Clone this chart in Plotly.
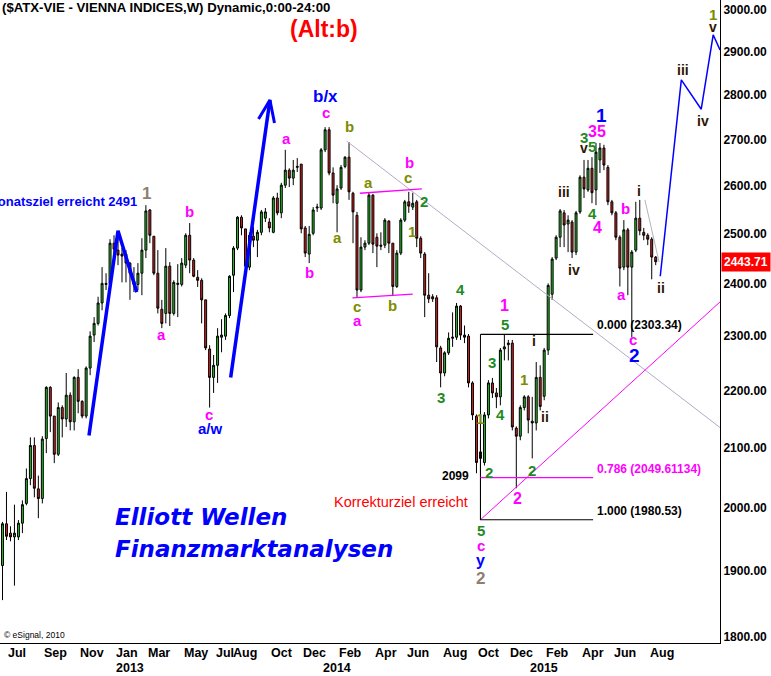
import math
import pandas as pd
import plotly.graph_objects as go

# ---------------- data (weekly ATX bars) ----------------
start_week = "2012-06-25"
opens = [1908, 1974, 1959, 1953, 1953, 1975, 2007, 2048, 2104, 2031,
         2015, 2116, 2206, 2155, 2089, 2170, 2150, 2192, 2145, 2224,
         2181, 2155, 2241, 2302, 2324, 2363, 2401, 2401, 2481, 2467,
         2459, 2459, 2441, 2405, 2399, 2421, 2467, 2549, 2495, 2421,
         2351, 2343, 2435, 2343, 2399, 2399, 2437, 2497, 2447, 2413,
         2407, 2369, 2276, 2224, 2246, 2298, 2300, 2339, 2417, 2471,
         2534, 2510, 2433, 2495, 2487, 2503, 2532, 2524, 2503, 2574,
         2543, 2601, 2633, 2616, 2639, 2646, 2512, 2459, 2501, 2553,
         2553, 2677, 2721, 2627, 2563, 2595, 2641, 2661, 2584, 2538,
         2388, 2473, 2481, 2580, 2493, 2477, 2477, 2526, 2481, 2395,
         2461, 2528, 2566, 2555, 2566, 2491, 2459, 2378, 2375, 2373,
         2278, 2232, 2269, 2296, 2298, 2357, 2302, 2300, 2214, 2155,
         2082, 2075, 2157, 2214, 2196, 2189, 2276, 2284, 2287, 2134,
         2120, 2170, 2189, 2146, 2143, 2224, 2190, 2274, 2380, 2451,
         2493, 2543, 2520, 2524, 2463, 2545, 2618, 2591, 2637, 2591,
         2655, 2681, 2639, 2566, 2543, 2493, 2433, 2508, 2433, 2467,
         2532, 2503, 2497, 2489, 2453]
highs = [1977, 2026, 1970, 2005, 1980, 2012, 2065, 2118, 2118, 2053,
         2120, 2208, 2208, 2155, 2179, 2174, 2232, 2197, 2226, 2239,
         2183, 2244, 2309, 2336, 2375, 2433, 2421, 2489, 2497, 2491,
         2471, 2467, 2443, 2433, 2441, 2491, 2559, 2551, 2495, 2467,
         2369, 2471, 2443, 2407, 2439, 2451, 2501, 2522, 2451, 2427,
         2411, 2369, 2283, 2265, 2315, 2332, 2343, 2417, 2475, 2536,
         2538, 2510, 2503, 2514, 2508, 2549, 2553, 2532, 2578, 2585,
         2606, 2677, 2637, 2655, 2659, 2646, 2516, 2516, 2555, 2562,
         2681, 2727, 2727, 2639, 2601, 2644, 2663, 2694, 2587, 2545,
         2493, 2487, 2585, 2582, 2501, 2503, 2532, 2528, 2481, 2467,
         2532, 2570, 2587, 2585, 2570, 2495, 2463, 2421, 2380, 2378,
         2282, 2272, 2307, 2345, 2363, 2359, 2320, 2304, 2217, 2158,
         2113, 2162, 2219, 2223, 2205, 2278, 2303.34, 2293, 2293, 2137,
         2174, 2192, 2192, 2189, 2252, 2246, 2278, 2401, 2453, 2497,
         2551, 2549, 2538, 2528, 2547, 2622, 2655, 2655, 2661, 2692,
         2692, 2688, 2644, 2570, 2547, 2497, 2528, 2512, 2467, 2566,
         2570, 2512, 2501, 2493, 2455]
lows = [1855, 1948, 1946, 1877, 1948, 1959, 2004, 2037, 2017, 1983,
        2007, 2091, 2127, 2074, 2086, 2118, 2136, 2130, 2130, 2160,
        2151, 2151, 2228, 2289, 2320, 2349, 2388, 2397, 2441, 2437,
        2403, 2403, 2369, 2384, 2388, 2378, 2451, 2481, 2417, 2343,
        2315, 2324, 2319, 2339, 2336, 2395, 2431, 2421, 2413, 2394,
        2324, 2274, 2170, 2196, 2214, 2270, 2293, 2334, 2384, 2467,
        2497, 2423, 2427, 2473, 2453, 2497, 2524, 2503, 2501, 2538,
        2532, 2595, 2597, 2601, 2629, 2501, 2453, 2441, 2497, 2545,
        2549, 2672, 2622, 2563, 2503, 2591, 2637, 2570, 2481, 2373,
        2384, 2467, 2477, 2461, 2433, 2467, 2471, 2461, 2378, 2392,
        2457, 2524, 2543, 2549, 2473, 2451, 2336, 2363, 2365, 2252,
        2206, 2226, 2265, 2280, 2293, 2293, 2287, 2206, 2148, 2057,
        1980.53, 2070, 2151, 2187, 2169, 2174, 2255, 2255, 2130, 2032,
        2113, 2165, 2125, 2082, 2130, 2165, 2183, 2265, 2369, 2447,
        2473, 2473, 2463, 2451, 2457, 2541, 2574, 2587, 2563, 2559,
        2627, 2633, 2559, 2538, 2487, 2395, 2427, 2378, 2298, 2463,
        2497, 2487, 2477, 2409, 2437]
closes = [1974, 1954, 1953, 1959, 1975, 2005, 2048, 2104, 2032, 2015,
          2115, 2206, 2155, 2089, 2170, 2150, 2192, 2145, 2224, 2181,
          2155, 2241, 2300, 2324, 2363, 2401, 2399, 2481, 2469, 2457,
          2455, 2441, 2421, 2399, 2421, 2467, 2547, 2497, 2421, 2353,
          2324, 2435, 2343, 2403, 2401, 2441, 2497, 2447, 2415, 2407,
          2369, 2278, 2224, 2246, 2300, 2302, 2339, 2415, 2471, 2534,
          2512, 2435, 2497, 2487, 2503, 2545, 2545, 2512, 2574, 2543,
          2601, 2633, 2616, 2633, 2641, 2510, 2461, 2499, 2549, 2555,
          2677, 2721, 2627, 2580, 2593, 2639, 2661, 2587, 2545, 2388,
          2473, 2481, 2580, 2479, 2475, 2475, 2528, 2481, 2395, 2461,
          2528, 2566, 2557, 2563, 2491, 2461, 2378, 2371, 2371, 2280,
          2232, 2269, 2296, 2298, 2357, 2302, 2298, 2214, 2157, 2075,
          2093, 2157, 2214, 2196, 2189, 2274, 2280, 2287, 2136, 2120,
          2170, 2189, 2148, 2143, 2224, 2172, 2274, 2397, 2449, 2493,
          2547, 2518, 2528, 2463, 2543, 2618, 2593, 2637, 2585, 2672,
          2681, 2644, 2566, 2543, 2493, 2431, 2508, 2433, 2463, 2532,
          2506, 2497, 2489, 2453, 2443.71]
last_price = 2443.71

y_ticks = [1800, 1900, 2000, 2100, 2200, 2300, 2400, 2500, 2600, 2700, 2800, 2900, 3000]

month_dates = ["2012-07-02", "2012-09-03", "2012-11-05", "2013-01-07", "2013-03-04",
               "2013-05-06", "2013-07-01", "2013-08-01", "2013-10-07", "2013-12-02",
               "2014-02-03", "2014-04-07", "2014-06-02", "2014-08-04", "2014-10-06",
               "2014-12-01", "2015-02-02", "2015-04-06", "2015-06-01", "2015-08-03"]
month_labels = ["Jul", "Sep", "Nov", "Jan", "Mar", "May", "Jul", "Aug", "Oct", "Dec",
                "Feb", "Apr", "Jun", "Aug", "Oct", "Dec", "Feb", "Apr", "Jun", "Aug"]
year_dates = ["2013-01-07", "2014-01-06", "2015-01-05"]
year_labels = ["2013", "2014", "2015"]

# hand-drawn lines (date, price)
arrow1_dates = ["2012-11-24", "2013-01-14", "2013-02-16"]
arrow1_prices = [2121, 2506, 2384]
arrow2_dates = ["2013-07-31", "2013-10-08"]
arrow2_prices = [2224, 2788]
arrowhead_dates = ["2013-09-18", "2013-10-08", "2013-10-16"]
arrowhead_prices = [2745, 2788, 2736]
proj_dates = ["2015-08-25", "2015-10-01", "2015-11-05", "2015-11-26", "2015-12-08"]
proj_prices = [2415, 2834, 2767, 2940, 2904]
down_dates = ["2014-02-20", "2015-12-08"]
down_prices = [2696, 2135]
up_dates = ["2014-10-13", "2015-12-08"]
up_prices = [1980.53, 2365]
chan_top_dates = ["2014-03-15", "2014-07-02"]
chan_top_prices = [2584, 2593]
chan_bot_dates = ["2014-03-02", "2014-06-16"]
chan_bot_prices = [2373, 2380]
small_dates = ["2015-07-29", "2015-08-23"]
small_prices = [2570, 2443]

fib_start = "2014-10-13"
fib_end = "2015-04-29"
fib_levels = [2303.34, 2049.61134, 1980.53]
fib_names = ["0.000 (2303.34)", "0.786 (2049.61134)", "1.000 (1980.53)"]
fib_colors = ["black", "#ff00ff", "black"]

# ---------------- figure ----------------
FONT = "Liberation Sans, Arial, sans-serif"
dates = pd.date_range(start_week, periods=len(opens), freq="7D")

fig = go.Figure()
fig.add_trace(go.Candlestick(
    x=dates, open=opens, high=highs, low=lows, close=closes,
    increasing=dict(fillcolor="#21c021", line=dict(color="black", width=1)),
    decreasing=dict(fillcolor="#d42020", line=dict(color="black", width=1)),
    whiskerwidth=0, showlegend=False, hoverinfo="skip"))


def add_line(xs, ys, color, width):
    fig.add_trace(go.Scatter(x=xs, y=ys, mode="lines", line=dict(color=color, width=width),
                             showlegend=False, hoverinfo="skip"))


add_line(down_dates, down_prices, "#b7a9c4", 1)
add_line(up_dates, up_prices, "#ff00ff", 1)
add_line(chan_top_dates, chan_top_prices, "#ff00ff", 1.3)
add_line(chan_bot_dates, chan_bot_prices, "#ff00ff", 1.3)
add_line(small_dates, small_prices, "#b4b4b4", 1)
add_line([fib_start, fib_start], [fib_levels[0], fib_levels[-1]], "black", 1)
for lv, col in zip(fib_levels, fib_colors):
    add_line([fib_start, fib_end], [lv, lv], col, 1.2)
add_line(arrow1_dates, arrow1_prices, "#0000ff", 3.5)
add_line(arrow2_dates, arrow2_prices, "#0000ff", 3.5)
add_line(arrowhead_dates, arrowhead_prices, "#0000ff", 3)
add_line(proj_dates, proj_prices, "#0000ff", 1.5)

PW, PH = 720, 643


def ann(text, x, y, color, size, bold=True, italic=False, xanchor="center", family=FONT):
    t = text
    if bold:
        t = "<b>" + t + "</b>"
    if italic:
        t = "<i>" + t + "</i>"
    fig.add_annotation(text=t, x=x / PW, y=1 - y / PH, xref="paper", yref="paper",
                       xanchor=xanchor, yanchor="middle", showarrow=False,
                       font=dict(color=color, size=size, family=family))


MAG, BLU, OLV, GRN, DRK, GRY = "#ff00ff", "#0000ff", "#7d8c00", "#1f8a1f", "#2e1600", "#8c7f72"

# header
ann("($ATX-VIE - VIENNA INDICES,W) Dynamic,0:00-24:00", 0, 8, "black", 13.2, xanchor="left")
ann("(Alt:b)", 323.5, 29, "#ff0000", 23)
ann("Monatsziel erreicht 2491", 139, 201, "#0000ff", 13, xanchor="right")
ann("Elliott Wellen", 113, 517, "#0000ff", 23, italic=True, xanchor="left", family="DejaVu Sans")
ann("Finanzmarktanalysen", 113, 549, "#0000ff", 23, italic=True, xanchor="left", family="DejaVu Sans")
ann("Korrekturziel erreicht", 332, 502, "#ff0000", 14.5, bold=False, xanchor="left")
ann("2099", 455, 476, "black", 12)
ann("© eSignal, 2010", 2, 635, "black", 8.5, bold=False, xanchor="left")

labels = [
    ("1", 146, 193, GRY, 17), ("b", 189, 211, MAG, 15), ("a", 161, 334, MAG, 15),
    ("c", 209, 414, MAG, 15), ("a/w", 210, 428, BLU, 15),
    ("a", 286, 139, MAG, 15), ("c", 326, 113, MAG, 15), ("b/x", 325, 96, BLU, 17),
    ("b", 309, 272, MAG, 15), ("b", 349, 127, OLV, 15), ("a", 337, 237, OLV, 15),
    ("a", 369, 182, OLV, 15), ("c", 408, 178, OLV, 15), ("b", 409, 162, MAG, 15),
    ("2", 424, 201, GRN, 15), ("1", 412, 231, OLV, 15), ("c", 357, 306, OLV, 15),
    ("a", 357, 320, MAG, 15), ("b", 393, 305, OLV, 15),
    ("4", 461, 289, GRN, 15), ("3", 441, 397, GRN, 15),
    ("1", 505, 305, MAG, 16), ("5", 505, 324, GRN, 15), ("i", 534, 341, DRK, 14),
    ("3", 492, 362, GRN, 15), ("1", 524, 379, OLV, 15), ("4", 500, 414, GRN, 15),
    ("1", 480, 418, OLV, 15), ("ii", 545, 417, DRK, 14), ("2", 489, 472, GRN, 15),
    ("2", 532, 470, GRN, 15), ("2", 517, 498, MAG, 16),
    ("5", 481, 530, GRN, 15), ("c", 481, 545, MAG, 15), ("y", 481, 560, BLU, 16),
    ("2", 481, 578, GRY, 17),
    ("1", 601, 116, BLU, 19), ("35", 597, 131, MAG, 16), ("3", 584, 137, GRN, 15),
    ("v", 584, 148, DRK, 14), ("5", 592, 147, GRN, 15), ("iii", 564, 192, DRK, 14),
    ("iv", 574, 270, DRK, 14), ("4", 592, 213, GRN, 15), ("4", 597, 228, MAG, 16),
    ("b", 625, 209, MAG, 15), ("i", 639, 191, DRK, 14), ("a", 621, 294, MAG, 15),
    ("ii", 661, 288, DRK, 14), ("c", 633, 340, MAG, 15), ("2", 634, 355, BLU, 19),
    ("iii", 683, 70, DRK, 14), ("iv", 703, 121, DRK, 14), ("v", 713, 27, DRK, 14),
    ("1", 713, 15, OLV, 15),
]
for t, x, y, c, s in labels:
    ann(t, x, y, c, s)

# fib labels
for lv, name, col in zip(fib_levels, fib_names, fib_colors):
    fig.add_annotation(text="<b>" + name + "</b>", x="2015-05-02", y=math.log10(lv), xref="x", yref="y",
                       xanchor="left", yanchor="bottom", showarrow=False,
                       font=dict(color=col, size=12, family=FONT))

# last price box
fig.add_annotation(text="<b>%.2f</b>" % last_price, x=1, y=math.log10(last_price), xref="paper", yref="y",
                   xanchor="left", yanchor="middle", showarrow=False, bgcolor="#ff0000",
                   font=dict(color="white", size=12, family=FONT), borderpad=2, xshift=1)

# month / year labels
for d, t in zip(month_dates, month_labels):
    fig.add_annotation(text="<b>" + t + "</b>", x=d, y=1 - 653 / PH, xref="x", yref="paper",
                       xanchor="left", yanchor="middle", showarrow=False,
                       font=dict(color="black", size=12.5, family=FONT))
for d, t in zip(year_dates, year_labels):
    fig.add_annotation(text="<b>" + t + "</b>", x=d, y=1 - 668 / PH, xref="x", yref="paper",
                       xanchor="left", yanchor="middle", showarrow=False,
                       font=dict(color="black", size=12.5, family=FONT))

fig.update_layout(
    width=771, height=676, margin=dict(l=0, r=51, t=0, b=33),
    plot_bgcolor="white", paper_bgcolor="white",
    xaxis=dict(type="date", range=["2012-06-20 14:33", "2015-12-07 23:40"], showgrid=False,
               showticklabels=False, showline=True, linecolor="black", linewidth=1,
               ticks="", zeroline=False, rangeslider=dict(visible=False)),
    yaxis=dict(type="log", range=[math.log10(1791.3), math.log10(3024.5)], side="right",
               tickvals=y_ticks, ticktext=["%.2f" % v for v in y_ticks], showgrid=False,
               showline=True, linecolor="black", linewidth=1, ticks="", zeroline=False,
               tickfont=dict(family=FONT, size=12, color="black", weight="bold")),
)

fig.write_html("out.html", config={"displayModeBar": False},
               post_script="document.body.style.margin='0px';document.body.style.padding='0px';")
